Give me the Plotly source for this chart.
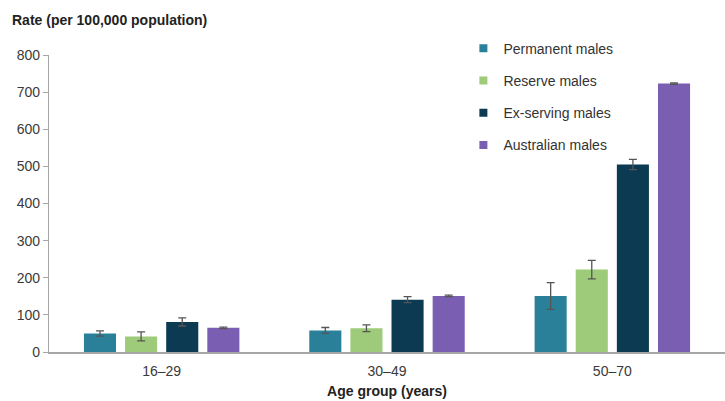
import plotly.graph_objects as go

age_groups = ["16–29", "30–49", "50–70"]
series_names = ["Permanent males", "Reserve males", "Ex-serving males", "Australian males"]
permanent = [50, 58, 151]
permanent_err = [7, 8, 36]
reserve = [42, 64, 222]
reserve_err = [12, 9, 25]
ex_serving = [81, 141, 505]
ex_serving_err = [11, 8, 14]
australian = [65, 151, 723]
australian_err = [2, 2, 2]
colors = ["#2A8099", "#9DCB7A", "#0B3A52", "#7A5EB2"]
y_ticks = [0, 100, 200, 300, 400, 500, 600, 700, 800]

values = [permanent, reserve, ex_serving, australian]
errors = [permanent_err, reserve_err, ex_serving_err, australian_err]

fig = go.Figure()
for name, vals, errs, col in zip(series_names, values, errors, colors):
    fig.add_trace(go.Bar(
        x=age_groups, y=vals, name=name, showlegend=False,
        marker=dict(color=col, line=dict(width=0)),
        error_y=dict(type="data", array=errs, visible=True, color="#555555",
                     thickness=1.3, width=4),
    ))
for i, (name, col) in enumerate(zip(series_names, colors)):
    fig.add_trace(go.Scatter(
        x=[None], y=[None], mode="markers", name=name, legendgroup=f"g{i}",
        marker=dict(symbol="square", size=8, color=col),
    ))

fig.update_layout(
    width=725, height=401,
    margin=dict(l=49, r=0, t=55, b=49, autoexpand=False),
    paper_bgcolor="white", plot_bgcolor="white",
    font=dict(family="Liberation Sans, Arial, sans-serif", size=14, color="#3a3a3a"),
    barmode="group", bargap=0.27, bargroupgap=0.22,
    legend=dict(x=0.613, y=1.075, xanchor="left", yanchor="top",
                font=dict(size=14, color="#333333"), tracegroupgap=11,
                bgcolor="rgba(0,0,0,0)"),
)
fig.add_annotation(text="<b>Rate (per 100,000 population)</b>", xref="paper", yref="paper",
                   x=-39/676, y=1 + 35/297, xanchor="left", yanchor="middle",
                   showarrow=False, font=dict(size=14, color="#222222"))

fig.update_xaxes(
    showline=True, linecolor="#A6A6A6", linewidth=1.5, ticks="", showgrid=False,
    ticklabelstandoff=5,
    title=dict(text="<b>Age group (years)</b>", font=dict(size=14, color="#222222"), standoff=9),
)
fig.update_yaxes(
    range=[0, 800], tickvals=y_ticks, showline=True, linecolor="#A6A6A6", linewidth=1.2,
    ticks="outside", ticklen=5, tickcolor="#A6A6A6", showgrid=False, zeroline=False,
)

fig.write_html("out.html", config={"displayModeBar": False},
               post_script="document.body.style.margin='0';")
